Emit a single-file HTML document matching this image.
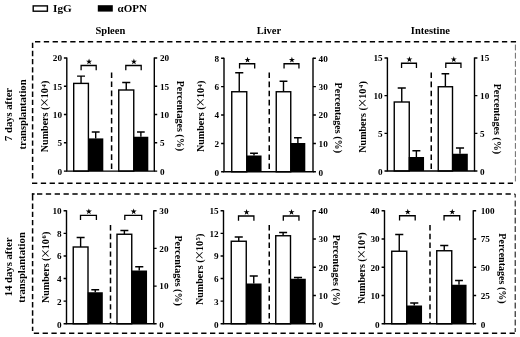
<!DOCTYPE html>
<html><head><meta charset="utf-8"><title>Figure</title>
<style>html,body{margin:0;padding:0;background:#fff;}svg{display:block;will-change:transform;}text{font-family:"Liberation Serif",serif;font-weight:bold;fill:#000;}</style></head><body>
<svg width="520" height="337" viewBox="0 0 520 337">
<rect x="0" y="0" width="520" height="337" fill="#fff"/>
<rect x="33.2" y="5.9" width="14.2" height="5.3" fill="#fff" stroke="#000" stroke-width="1.4"/>
<text x="53.1" y="12.1" font-size="11.2">IgG</text>
<rect x="97.8" y="5.2" width="15" height="6.4" fill="#000"/>
<text x="117.5" y="12.1" font-size="11">αOPN</text>
<text x="110.4" y="34" font-size="10.5" text-anchor="middle">Spleen</text>
<text x="268.9" y="34.4" font-size="10.5" text-anchor="middle">Liver</text>
<text x="430.4" y="34.4" font-size="10.5" text-anchor="middle">Intestine</text>
<g fill="none" stroke="#000" stroke-width="1.5">
<path d="M35 41.8H516.2" stroke-dasharray="5.3 3.51"/>
<path d="M32 183.2H513.5" stroke-dasharray="5.3 3.51"/>
<path d="M32.6 42.7V181" stroke-dasharray="5.3 2.85"/>
<path d="M515.4 44.6V181.4" stroke-width="0.8" stroke="#444" stroke-dasharray="5.8 2.4"/>
<path d="M31.9 194.1H34.6M37 194.1H511.5" stroke-dasharray="5.3 3.54"/>
<path d="M33.8 333.3H515.6" stroke-dasharray="5.3 3.51"/>
<path d="M32.6 193.4V200.5"/>
<path d="M32.6 203.6V331.1" stroke-dasharray="5.3 2.91"/>
<path d="M514 194.1H515.2V197.5M515.2 200.6V332" stroke-width="1" stroke-dasharray="5.9 2.6"/>
</g>
<text transform="translate(12.1 114.4) rotate(-90)" font-size="10.6" text-anchor="middle">7 days after</text>
<text transform="translate(25.6 114.5) rotate(-90)" font-size="10.6" text-anchor="middle">transplantation</text>
<text transform="translate(12.0 266.9) rotate(-90)" font-size="10.7" text-anchor="middle">14 days after</text>
<text transform="translate(24.8 267.5) rotate(-90)" font-size="10.7" text-anchor="middle">transplantation</text>
<path d="M111.6 72.4V171.1" fill="none" stroke="#000" stroke-width="1.5" stroke-dasharray="5.6 3.5"/>
<path d="M81.05 83.4V76.1M77.08 76.1H85.02" fill="none" stroke="#000" stroke-width="1.4"/>
<rect x="73.70" y="83.4" width="14.70" height="87.70" fill="#fff" stroke="#000" stroke-width="1.4"/>
<path d="M95.70 138.4V132M91.76 132H99.64" fill="none" stroke="#000" stroke-width="1.4"/>
<rect x="88.10" y="138.4" width="15.20" height="32.70" fill="#000"/>
<path d="M126.25 90V82.5M122.20 82.5H130.30" fill="none" stroke="#000" stroke-width="1.4"/>
<rect x="118.75" y="90" width="15.00" height="81.10" fill="#fff" stroke="#000" stroke-width="1.4"/>
<path d="M140.88 136.75V132M137.03 132H144.72" fill="none" stroke="#000" stroke-width="1.4"/>
<rect x="133.45" y="136.75" width="14.85" height="34.35" fill="#000"/>
<path d="M66.8 57.4V171.1H154.3V57.4" fill="none" stroke="#000" stroke-width="1.4"/>
<path d="M63.9 58.00H66.8M63.9 86.28H66.8M63.9 114.55H66.8M63.9 142.82H66.8M63.9 171.10H66.8M154.3 58.00H157.20000000000002M154.3 86.28H157.20000000000002M154.3 114.55H157.20000000000002M154.3 142.82H157.20000000000002M154.3 171.10H157.20000000000002" fill="none" stroke="#000" stroke-width="1.4"/>
<text x="62.0" y="61.40" font-size="9.2" text-anchor="end">20</text>
<text x="62.0" y="89.68" font-size="9.2" text-anchor="end">15</text>
<text x="62.0" y="117.95" font-size="9.2" text-anchor="end">10</text>
<text x="62.0" y="146.22" font-size="9.2" text-anchor="end">5</text>
<text x="62.0" y="175.30" font-size="9.2" text-anchor="end">0</text>
<text x="159.9" y="61.40" font-size="9.2">20</text>
<text x="159.9" y="89.68" font-size="9.2">15</text>
<text x="159.9" y="117.95" font-size="9.2">10</text>
<text x="159.9" y="146.22" font-size="9.2">5</text>
<text x="159.9" y="175.30" font-size="9.2">0</text>
<path d="M81.1 70.2V65.5H96.2V70.2" fill="none" stroke="#000" stroke-width="1.3"/>
<polygon points="89.05,58.50 89.78,60.69 92.09,60.71 90.24,62.09 90.93,64.29 89.05,62.95 87.17,64.29 87.86,62.09 86.01,60.71 88.32,60.69" fill="#000"/>
<path d="M125.8 70.2V65.5H141.2V70.2" fill="none" stroke="#000" stroke-width="1.3"/>
<polygon points="133.90,58.50 134.63,60.69 136.94,60.71 135.09,62.09 135.78,64.29 133.90,62.95 132.02,64.29 132.71,62.09 130.86,60.71 133.17,60.69" fill="#000"/>
<text transform="translate(48.3 116.4) rotate(-90)" font-size="10.05" text-anchor="middle">Numbers (<tspan font-weight="normal" font-size="16" dy="2.0" dx="-0.3">×</tspan><tspan dy="-2.0" dx="-0.3">10</tspan><tspan font-size="6.5" dy="-2.8" dx="0.6">4</tspan><tspan dy="2.8" dx="0.3">)</tspan></text>
<text transform="translate(177.2 115.9) rotate(90)" font-size="10.05" text-anchor="middle">Percentages (%)</text>
<path d="M269.25 72.5V171.8" fill="none" stroke="#000" stroke-width="1.5" stroke-dasharray="5.6 3.5"/>
<path d="M239.25 91.75V72.75M235.20 72.75H243.30" fill="none" stroke="#000" stroke-width="1.4"/>
<rect x="231.75" y="91.75" width="15.00" height="80.05" fill="#fff" stroke="#000" stroke-width="1.4"/>
<path d="M254.00 155.5V153.25M250.09 153.25H257.92" fill="none" stroke="#000" stroke-width="1.4"/>
<rect x="246.45" y="155.5" width="15.10" height="16.30" fill="#000"/>
<path d="M283.50 91.75V81.25M279.58 81.25H287.42" fill="none" stroke="#000" stroke-width="1.4"/>
<rect x="276.25" y="91.75" width="14.50" height="80.05" fill="#fff" stroke="#000" stroke-width="1.4"/>
<path d="M297.88 143V137.75M294.03 137.75H301.72" fill="none" stroke="#000" stroke-width="1.4"/>
<rect x="290.45" y="143" width="14.85" height="28.80" fill="#000"/>
<path d="M224 57.699999999999996V171.8H313V57.699999999999996" fill="none" stroke="#000" stroke-width="1.4"/>
<path d="M221.1 58.30H224M221.1 86.67H224M221.1 115.05H224M221.1 143.43H224M221.1 171.80H224M313 58.30H315.9M313 86.67H315.9M313 115.05H315.9M313 143.43H315.9M313 171.80H315.9" fill="none" stroke="#000" stroke-width="1.4"/>
<text x="219.2" y="61.70" font-size="9.2" text-anchor="end">8</text>
<text x="219.2" y="90.08" font-size="9.2" text-anchor="end">6</text>
<text x="219.2" y="118.45" font-size="9.2" text-anchor="end">4</text>
<text x="219.2" y="146.83" font-size="9.2" text-anchor="end">2</text>
<text x="219.2" y="176.00" font-size="9.2" text-anchor="end">0</text>
<text x="318.6" y="61.70" font-size="9.2">40</text>
<text x="318.6" y="90.08" font-size="9.2">30</text>
<text x="318.6" y="118.45" font-size="9.2">20</text>
<text x="318.6" y="146.83" font-size="9.2">10</text>
<text x="318.6" y="176.00" font-size="9.2">0</text>
<path d="M239.55 68.45V63.75H254.7V68.45" fill="none" stroke="#000" stroke-width="1.3"/>
<polygon points="247.53,56.75 248.26,58.94 250.57,58.96 248.71,60.34 249.41,62.54 247.53,61.20 245.64,62.54 246.34,60.34 244.48,58.96 246.79,58.94" fill="#000"/>
<path d="M284.05 68.45V63.75H298.95V68.45" fill="none" stroke="#000" stroke-width="1.3"/>
<polygon points="291.90,56.75 292.63,58.94 294.94,58.96 293.09,60.34 293.78,62.54 291.90,61.20 290.02,62.54 290.71,60.34 288.86,58.96 291.17,58.94" fill="#000"/>
<text transform="translate(204.4 116.25) rotate(-90)" font-size="10.05" text-anchor="middle">Numbers (<tspan font-weight="normal" font-size="16" dy="2.0" dx="-0.3">×</tspan><tspan dy="-2.0" dx="-0.3">10</tspan><tspan font-size="6.5" dy="-2.8" dx="0.6">4</tspan><tspan dy="2.8" dx="0.3">)</tspan></text>
<text transform="translate(335 117.8) rotate(90)" font-size="10.05" text-anchor="middle">Percentages (%)</text>
<path d="M431.25 72.5V171.0" fill="none" stroke="#000" stroke-width="1.5" stroke-dasharray="5.6 3.5"/>
<path d="M401.75 102V88M397.70 88H405.80" fill="none" stroke="#000" stroke-width="1.4"/>
<rect x="394.25" y="102" width="15.00" height="69.00" fill="#fff" stroke="#000" stroke-width="1.4"/>
<path d="M416.38 157V150.75M412.39 150.75H420.36" fill="none" stroke="#000" stroke-width="1.4"/>
<rect x="408.70" y="157" width="15.35" height="14.00" fill="#000"/>
<path d="M445.38 86.75V73.75M441.53 73.75H449.22" fill="none" stroke="#000" stroke-width="1.4"/>
<rect x="438.25" y="86.75" width="14.25" height="84.25" fill="#fff" stroke="#000" stroke-width="1.4"/>
<path d="M460.00 153.75V148M455.95 148H464.05" fill="none" stroke="#000" stroke-width="1.4"/>
<rect x="452.20" y="153.75" width="15.60" height="17.25" fill="#000"/>
<path d="M387.4 57.4V171.0H474.5V57.4" fill="none" stroke="#000" stroke-width="1.4"/>
<path d="M384.5 58.00H387.4M384.5 95.67H387.4M384.5 133.33H387.4M384.5 171.00H387.4M474.5 58.00H477.4M474.5 95.67H477.4M474.5 133.33H477.4M474.5 171.00H477.4" fill="none" stroke="#000" stroke-width="1.4"/>
<text x="382.59999999999997" y="61.40" font-size="9.2" text-anchor="end">15</text>
<text x="382.59999999999997" y="99.07" font-size="9.2" text-anchor="end">10</text>
<text x="382.59999999999997" y="136.73" font-size="9.2" text-anchor="end">5</text>
<text x="382.59999999999997" y="175.20" font-size="9.2" text-anchor="end">0</text>
<text x="480.1" y="61.40" font-size="9.2">15</text>
<text x="480.1" y="99.07" font-size="9.2">10</text>
<text x="480.1" y="136.73" font-size="9.2">5</text>
<text x="480.1" y="175.20" font-size="9.2">0</text>
<path d="M401.55 67.95V63.25H416.45V67.95" fill="none" stroke="#000" stroke-width="1.3"/>
<polygon points="409.40,56.25 410.13,58.44 412.44,58.46 410.59,59.84 411.28,62.04 409.40,60.70 407.52,62.04 408.21,59.84 406.36,58.46 408.67,58.44" fill="#000"/>
<path d="M445.8 67.95V63.25H460.95V67.95" fill="none" stroke="#000" stroke-width="1.3"/>
<polygon points="453.77,56.25 454.51,58.44 456.82,58.46 454.96,59.84 455.66,62.04 453.77,60.70 451.89,62.04 452.59,59.84 450.73,58.46 453.04,58.44" fill="#000"/>
<text transform="translate(365.8 116.95) rotate(-90)" font-size="10.05" text-anchor="middle">Numbers (<tspan font-weight="normal" font-size="16" dy="2.0" dx="-0.3">×</tspan><tspan dy="-2.0" dx="-0.3">10</tspan><tspan font-size="6.5" dy="-2.8" dx="0.6">4</tspan><tspan dy="2.8" dx="0.3">)</tspan></text>
<text transform="translate(493.6 118.85) rotate(90)" font-size="10.05" text-anchor="middle">Percentages (%)</text>
<path d="M110.5 225V323.75" fill="none" stroke="#000" stroke-width="1.5" stroke-dasharray="5.4 3.4"/>
<path d="M80.62 247V237.5M76.64 237.5H84.61" fill="none" stroke="#000" stroke-width="1.4"/>
<rect x="73.25" y="247" width="14.75" height="76.75" fill="#fff" stroke="#000" stroke-width="1.4"/>
<path d="M95.25 292.25V289.75M91.33 289.75H99.17" fill="none" stroke="#000" stroke-width="1.4"/>
<rect x="87.70" y="292.25" width="15.10" height="31.50" fill="#000"/>
<path d="M124.38 234.25V230.5M120.39 230.5H128.36" fill="none" stroke="#000" stroke-width="1.4"/>
<rect x="117.00" y="234.25" width="14.75" height="89.50" fill="#fff" stroke="#000" stroke-width="1.4"/>
<path d="M139.25 270.5V266.75M135.20 266.75H143.30" fill="none" stroke="#000" stroke-width="1.4"/>
<rect x="131.45" y="270.5" width="15.60" height="53.25" fill="#000"/>
<path d="M66.5 210.15V323.75H153.75V210.15" fill="none" stroke="#000" stroke-width="1.4"/>
<path d="M63.6 210.75H66.5M63.6 233.35H66.5M63.6 255.95H66.5M63.6 278.55H66.5M63.6 301.15H66.5M63.6 323.75H66.5M153.75 210.75H156.65M153.75 248.42H156.65M153.75 286.08H156.65M153.75 323.75H156.65" fill="none" stroke="#000" stroke-width="1.4"/>
<text x="61.7" y="214.15" font-size="9.2" text-anchor="end">10</text>
<text x="61.7" y="236.75" font-size="9.2" text-anchor="end">8</text>
<text x="61.7" y="259.35" font-size="9.2" text-anchor="end">6</text>
<text x="61.7" y="281.95" font-size="9.2" text-anchor="end">4</text>
<text x="61.7" y="304.55" font-size="9.2" text-anchor="end">2</text>
<text x="61.7" y="327.55" font-size="9.2" text-anchor="end">0</text>
<text x="159.35" y="214.15" font-size="9.2">30</text>
<text x="159.35" y="251.82" font-size="9.2">20</text>
<text x="159.35" y="289.48" font-size="9.2">10</text>
<text x="159.35" y="327.55" font-size="9.2">0</text>
<path d="M80.5 220.1V215.4H96.4V220.1" fill="none" stroke="#000" stroke-width="1.3"/>
<polygon points="88.85,208.40 89.58,210.59 91.89,210.61 90.04,211.99 90.73,214.19 88.85,212.85 86.97,214.19 87.66,211.99 85.81,210.61 88.12,210.59" fill="#000"/>
<path d="M124.8 220.1V215.4H141.7V220.1" fill="none" stroke="#000" stroke-width="1.3"/>
<polygon points="133.65,208.40 134.38,210.59 136.69,210.61 134.84,211.99 135.53,214.19 133.65,212.85 131.77,214.19 132.46,211.99 130.61,210.61 132.92,210.59" fill="#000"/>
<text transform="translate(48.5 267.35) rotate(-90)" font-size="10.05" text-anchor="middle">Numbers (<tspan font-weight="normal" font-size="16" dy="2.0" dx="-0.3">×</tspan><tspan dy="-2.0" dx="-0.3">10</tspan><tspan font-size="6.5" dy="-2.8" dx="0.6">6</tspan><tspan dy="2.8" dx="0.3">)</tspan></text>
<text transform="translate(175.4 270.65) rotate(90)" font-size="10.05" text-anchor="middle">Percentages (%)</text>
<path d="M269.25 225V323.75" fill="none" stroke="#000" stroke-width="1.5" stroke-dasharray="5.4 3.4"/>
<path d="M238.75 241.25V237M234.70 237H242.80" fill="none" stroke="#000" stroke-width="1.4"/>
<rect x="231.25" y="241.25" width="15.00" height="82.50" fill="#fff" stroke="#000" stroke-width="1.4"/>
<path d="M253.75 283.5V276M249.70 276H257.80" fill="none" stroke="#000" stroke-width="1.4"/>
<rect x="245.95" y="283.5" width="15.60" height="40.25" fill="#000"/>
<path d="M283.12 235.75V232.5M279.14 232.5H287.11" fill="none" stroke="#000" stroke-width="1.4"/>
<rect x="275.75" y="235.75" width="14.75" height="88.00" fill="#fff" stroke="#000" stroke-width="1.4"/>
<path d="M298.00 278.75V277.5M293.95 277.5H302.05" fill="none" stroke="#000" stroke-width="1.4"/>
<rect x="290.20" y="278.75" width="15.60" height="45.00" fill="#000"/>
<path d="M223.5 210.15V323.75H313V210.15" fill="none" stroke="#000" stroke-width="1.4"/>
<path d="M220.6 210.75H223.5M220.6 233.35H223.5M220.6 255.95H223.5M220.6 278.55H223.5M220.6 301.15H223.5M220.6 323.75H223.5M313 210.75H315.9M313 239.00H315.9M313 267.25H315.9M313 295.50H315.9M313 323.75H315.9" fill="none" stroke="#000" stroke-width="1.4"/>
<text x="218.7" y="214.15" font-size="9.2" text-anchor="end">15</text>
<text x="218.7" y="236.75" font-size="9.2" text-anchor="end">12</text>
<text x="218.7" y="259.35" font-size="9.2" text-anchor="end">9</text>
<text x="218.7" y="281.95" font-size="9.2" text-anchor="end">6</text>
<text x="218.7" y="304.55" font-size="9.2" text-anchor="end">3</text>
<text x="218.7" y="327.55" font-size="9.2" text-anchor="end">0</text>
<text x="318.6" y="214.15" font-size="9.2">40</text>
<text x="318.6" y="242.40" font-size="9.2">30</text>
<text x="318.6" y="270.65" font-size="9.2">20</text>
<text x="318.6" y="298.90" font-size="9.2">10</text>
<text x="318.6" y="327.55" font-size="9.2">0</text>
<path d="M238.5 220.7V216H253.89999999999998V220.7" fill="none" stroke="#000" stroke-width="1.3"/>
<polygon points="246.60,209.00 247.33,211.19 249.64,211.21 247.79,212.59 248.48,214.79 246.60,213.45 244.72,214.79 245.41,212.59 243.56,211.21 245.87,211.19" fill="#000"/>
<path d="M283.3 220.7V216H298.95V220.7" fill="none" stroke="#000" stroke-width="1.3"/>
<polygon points="291.52,209.00 292.26,211.19 294.57,211.21 292.71,212.59 293.41,214.79 291.52,213.45 289.64,214.79 290.34,212.59 288.48,211.21 290.79,211.19" fill="#000"/>
<text transform="translate(203.0 269.25) rotate(-90)" font-size="10.05" text-anchor="middle">Numbers (<tspan font-weight="normal" font-size="16" dy="2.0" dx="-0.3">×</tspan><tspan dy="-2.0" dx="-0.3">10</tspan><tspan font-size="6.5" dy="-2.8" dx="0.6">5</tspan><tspan dy="2.8" dx="0.3">)</tspan></text>
<text transform="translate(333 269.85) rotate(90)" font-size="10.05" text-anchor="middle">Percentages (%)</text>
<path d="M430 225V323.75" fill="none" stroke="#000" stroke-width="1.5" stroke-dasharray="5.4 3.4"/>
<path d="M399.25 251.25V234.5M395.20 234.5H403.30" fill="none" stroke="#000" stroke-width="1.4"/>
<rect x="391.75" y="251.25" width="15.00" height="72.50" fill="#fff" stroke="#000" stroke-width="1.4"/>
<path d="M414.25 305.5V303M410.20 303H418.30" fill="none" stroke="#000" stroke-width="1.4"/>
<rect x="406.45" y="305.5" width="15.60" height="18.25" fill="#000"/>
<path d="M444.25 250.75V245.5M440.20 245.5H448.30" fill="none" stroke="#000" stroke-width="1.4"/>
<rect x="436.75" y="250.75" width="15.00" height="73.00" fill="#fff" stroke="#000" stroke-width="1.4"/>
<path d="M459.00 284.75V280.5M455.08 280.5H462.92" fill="none" stroke="#000" stroke-width="1.4"/>
<rect x="451.45" y="284.75" width="15.10" height="39.00" fill="#000"/>
<path d="M384.5 210.15V323.75H473.25V210.15" fill="none" stroke="#000" stroke-width="1.4"/>
<path d="M381.6 210.75H384.5M381.6 239.00H384.5M381.6 267.25H384.5M381.6 295.50H384.5M381.6 323.75H384.5M473.25 210.75H476.15M473.25 239.00H476.15M473.25 267.25H476.15M473.25 295.50H476.15M473.25 323.75H476.15" fill="none" stroke="#000" stroke-width="1.4"/>
<text x="379.7" y="214.15" font-size="9.2" text-anchor="end">40</text>
<text x="379.7" y="242.40" font-size="9.2" text-anchor="end">30</text>
<text x="379.7" y="270.65" font-size="9.2" text-anchor="end">20</text>
<text x="379.7" y="298.90" font-size="9.2" text-anchor="end">10</text>
<text x="379.7" y="327.55" font-size="9.2" text-anchor="end">0</text>
<text x="480.75" y="214.15" font-size="9.2">100</text>
<text x="480.75" y="242.40" font-size="9.2">75</text>
<text x="480.75" y="270.65" font-size="9.2">50</text>
<text x="480.75" y="298.90" font-size="9.2">25</text>
<text x="480.75" y="327.55" font-size="9.2">0</text>
<path d="M399.55 220.45V215.75H415.2V220.45" fill="none" stroke="#000" stroke-width="1.3"/>
<polygon points="407.77,208.75 408.51,210.94 410.82,210.96 408.96,212.34 409.66,214.54 407.77,213.20 405.89,214.54 406.59,212.34 404.73,210.96 407.04,210.94" fill="#000"/>
<path d="M444.05 220.45V215.75H459.7V220.45" fill="none" stroke="#000" stroke-width="1.3"/>
<polygon points="452.27,208.75 453.01,210.94 455.32,210.96 453.46,212.34 454.16,214.54 452.27,213.20 450.39,214.54 451.09,212.34 449.23,210.96 451.54,210.94" fill="#000"/>
<text transform="translate(364.7 268.1) rotate(-90)" font-size="10.05" text-anchor="middle">Numbers (<tspan font-weight="normal" font-size="16" dy="2.0" dx="-0.3">×</tspan><tspan dy="-2.0" dx="-0.3">10</tspan><tspan font-size="6.5" dy="-2.8" dx="0.6">4</tspan><tspan dy="2.8" dx="0.3">)</tspan></text>
<text transform="translate(498.6 268.5) rotate(90)" font-size="10.05" text-anchor="middle">Percentages (%)</text>
</svg></body></html>
